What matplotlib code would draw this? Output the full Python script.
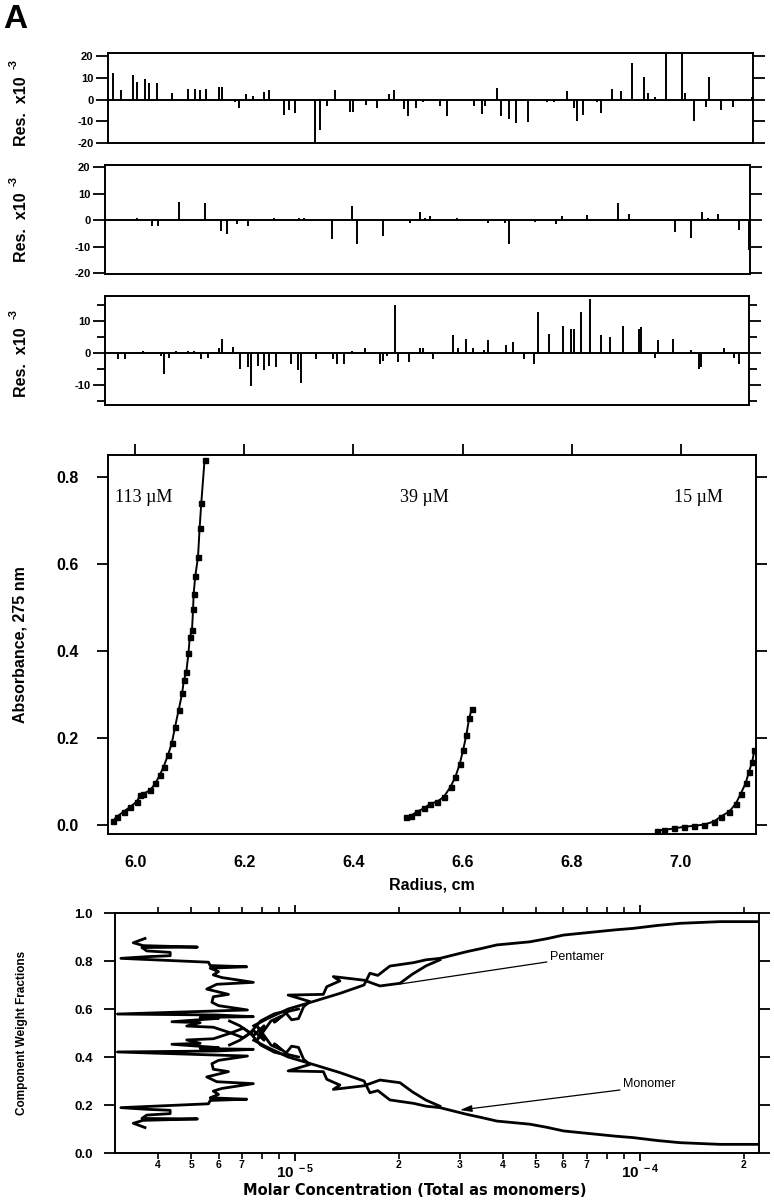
import numpy as np
import matplotlib.pyplot as plt
from matplotlib.ticker import FixedLocator, FixedFormatter

plt.rcParams['font.family'] = ['Liberation Sans', 'DejaVu Sans']
plt.rcParams['mathtext.fontset'] = 'custom'
plt.rcParams['mathtext.bf'] = 'Liberation Sans:bold'
plt.rcParams['mathtext.rm'] = 'Liberation Sans:bold'
plt.rcParams['axes.unicode_minus'] = False

# ---- residual panels (position along scan, % ; residual x1e-3) ----
res1_pos = [0.5, 1.7, 3.6, 4.2, 5.4, 6.0, 7.3, 9.6, 12.1, 13.2, 14.0, 15.0, 16.9, 17.4, 19.4,
            20.0, 21.2, 22.3, 24.0, 24.8, 27.1, 27.8, 28.8, 31.9, 32.7, 33.8, 35.0, 37.4, 37.8,
            39.8, 41.6, 43.4, 44.2, 45.7, 46.4, 47.6, 48.7, 51.3, 52.4, 56.6, 57.8, 58.4, 60.2,
            60.8, 62.0, 63.1, 65.0, 67.9, 69.1, 71.0, 72.2, 72.7, 73.5, 75.8, 76.4, 78.1, 79.4,
            81.2, 83.1, 83.6, 84.8, 86.5, 89.0, 89.5, 90.9, 92.7, 93.2, 95.0, 96.9, 99.8]
res1_val = [12.5, 4.5, 11.5, 8, 9.5, 7.5, 7.5, 3, 5, 5, 4.5, 5, 6, 6, -1,
            -4, 2.5, 1.5, 3.5, 4.5, -7, -5, -6, -20, -14, -3, 4.5, -5.5, -5.5,
            -2.5, -4, 2.5, 4.5, -4.5, -7.5, -4, -1, -3, -7.5, -3, -6.5, -3, 5.5,
            -7.5, -9, -11, -10.5, -1, -1, 4, -4, -10, -7, -1, -6, 5, 4,
            17, 10.5, 3, 1, 25, 24, 3, -10, -3.5, 10.5, -5, -3.5, 1]

res2_pos = [4.7, 7.0, 7.9, 11.2, 15.3, 17.7, 18.6, 20.3, 21.9, 26.0, 29.9, 30.7, 35.0, 38.1,
            38.9, 42.9, 47.1, 48.7, 49.5, 50.2, 54.4, 56.7, 59.2, 61.9, 62.5, 66.5, 69.8, 70.7,
            74.6, 79.4, 81.2, 86.7, 88.4, 90.9, 92.6, 93.5, 95.0, 98.3, 99.8]
res2_val = [1, -2, -2, 7, 6.5, -4, -5, -1.5, -2, 1, 1, 1, -7, 5.5,
            -9, -6, -1, 3, 1, 1.5, 1, 0.5, -1, -1, -9, -0.5, -1.5, 1.5,
            2, 6.5, 2.5, 0.5, -4.5, -6.5, 3, 1, 2.5, -3.5, -11]

res3_pos = [1.7, 2.8, 5.6, 8.4, 8.9, 9.6, 10.7, 12.7, 13.5, 14.6, 15.8, 17.4, 17.9, 19.7, 20.7,
            21.9, 22.5, 23.6, 24.5, 25.3, 26.4, 28.6, 29.7, 30.3, 32.5, 33.5, 35.2, 35.9, 37.0,
            38.2, 40.2, 42.5, 43.0, 43.6, 44.9, 45.3, 47.0, 48.8, 49.2, 50.8, 53.9, 54.7, 55.9,
            57.0, 58.7, 59.3, 62.1, 63.2, 64.9, 66.5, 67.1, 68.8, 71.1, 72.2, 72.7, 73.8, 75.3,
            77.0, 78.3, 80.4, 82.8, 83.2, 85.4, 85.9, 88.2, 91.0, 92.2, 92.5, 96.1, 97.7, 98.4]
res3_val = [-2, -2, 0.5, -1, -6.5, -1.5, 0.5, 0.5, 0.5, -2, -1.5, 1.5, 4.5, 2, -5,
            -4.5, -10.5, -4, -5.5, -4, -4.5, -3.5, -5.5, -9.5, -2, -0.5, -2, -3.5, -3.5,
            0.5, 1.5, -3.5, -2.5, -1, 15, -3, -3, 1.5, 1.5, -2, 5.5, 1.5, 4.5,
            1.5, 1, 4, 2.5, 3.5, -2, -3.5, 12.8, 6, 8.5, 7.5, 7.5, 13, 17,
            5.5, 5, 8.5, 7.5, 8, -1.5, 4, 4.5, 1, -5, -4.5, 1.5, -1.5, -3.5]

# ---- absorbance profiles (radius cm, absorbance at 275 nm) ----
r_113 = [5.959, 5.966, 5.979, 5.991, 6.003, 6.009, 6.015, 6.0275, 6.037, 6.045, 6.052, 6.060,
         6.067, 6.073, 6.0795, 6.086, 6.089, 6.0936, 6.0975, 6.100, 6.104, 6.106, 6.107, 6.110,
         6.115, 6.118, 6.121, 6.127]
a_113 = [0.009, 0.019, 0.031, 0.042, 0.054, 0.069, 0.072, 0.080, 0.096, 0.115, 0.134, 0.161,
         0.188, 0.226, 0.264, 0.303, 0.333, 0.352, 0.395, 0.432, 0.448, 0.497, 0.531, 0.572,
         0.616, 0.683, 0.740, 0.839]
r_39 = [6.497, 6.505, 6.517, 6.529, 6.541, 6.554, 6.566, 6.578, 6.587, 6.595, 6.601, 6.607,
        6.612, 6.617]
a_39 = [0.019, 0.021, 0.031, 0.038, 0.049, 0.054, 0.065, 0.088, 0.111, 0.141, 0.172, 0.207,
        0.245, 0.267]
r_15 = [6.956, 6.970, 6.988, 7.006, 7.024, 7.043, 7.061, 7.073, 7.089, 7.101, 7.110, 7.119,
        7.125, 7.131, 7.135]
a_15 = [-0.013, -0.011, -0.008, -0.004, -0.002, 0.001, 0.008, 0.019, 0.031, 0.049, 0.072,
        0.096, 0.122, 0.145, 0.172]
cells = ['113 \u00b5M', '39 \u00b5M', '15 \u00b5M']
cell_label_r = [5.963, 6.486, 6.987]

# ---- pentamer weight fraction traces (log10 molar conc, fraction) ----
p1_logc = [-5.435, -5.469, -5.440, -5.283, -5.444, -5.430, -5.362, -5.362, -5.430, -5.505,
           -5.251, -5.246, -5.140, -5.246, -5.222, -5.237, -5.212, -5.121, -5.227, -5.256,
           -5.193, -5.237, -5.241, -5.222, -5.138, -5.515, -5.227, -5.121, -5.275, -5.222,
           -5.357, -5.275, -5.314, -5.237, -5.188, -5.15, -5.12, -5.09, -5.11, -5.07, -5.04,
           -5.06, -5.02, -4.99]
p1_frac = [0.106, 0.124, 0.136, 0.142, 0.144, 0.158, 0.164, 0.178, 0.182, 0.189,
           0.205, 0.219, 0.224, 0.230, 0.244, 0.258, 0.269, 0.289, 0.297, 0.317,
           0.339, 0.349, 0.372, 0.386, 0.404, 0.421, 0.425, 0.432, 0.435, 0.439,
           0.453, 0.457, 0.471, 0.476, 0.499, 0.52, 0.49, 0.53, 0.47, 0.55, 0.57,
           0.545, 0.59, 0.60]
p2_logc = [-5.19, -5.16, -5.13, -5.10, -5.06, -5.03, -5.01, -4.99, -4.975, -4.957, -5.02,
           -4.918, -4.908, -4.87, -4.889, -4.80, -4.754, -4.696, -4.66, -4.62, -4.58]
p2_frac = [0.45, 0.47, 0.50, 0.55, 0.58, 0.59, 0.555, 0.56, 0.61, 0.631, 0.658,
           0.661, 0.693, 0.717, 0.735, 0.72, 0.696, 0.707, 0.745, 0.78, 0.805]
p3_logc = [-5.12, -5.08, -5.02, -4.95, -4.87, -4.80, -4.783, -4.76, -4.725, -4.657, -4.62,
           -4.58, -4.502, -4.46, -4.415, -4.319, -4.27, -4.222, -4.126, -4.07, -4.019, -3.95,
           -3.884, -3.768, -3.657]
p3_frac = [0.53, 0.56, 0.60, 0.63, 0.665, 0.70, 0.749, 0.74, 0.779, 0.793, 0.805,
           0.811, 0.839, 0.852, 0.867, 0.880, 0.893, 0.908, 0.922, 0.93, 0.936, 0.948,
           0.957, 0.964, 0.964]

W, H = 774, 1200
fig = plt.figure(figsize=(W / 100, H / 100), dpi=100)


def rect(l, t, r, b):
    return [l / W, 1 - b / H, (r - l) / W, (b - t) / H]


def res_panel(box, pos, val, ylim, major, minor, lab_y, sup_y):
    ax = fig.add_axes(box)
    ax.vlines(pos, 0, val, color='black', lw=1.4)
    ax.axhline(0, color='black', lw=1.4)
    ax.set_xlim(-0.3, 100)
    ax.set_ylim(*ylim)
    ax.set_xticks([])
    ax.set_yticks(major)
    ax.set_yticks(minor, minor=True)
    ax.tick_params(axis='y', which='both', direction='out', left=True, right=True,
                   width=1.3, length=8.5, pad=2)
    ax.tick_params(axis='y', which='minor', length=6)
    for lab in ax.get_yticklabels():
        lab.set_fontsize(8)
        lab.set_fontweight('bold')
    for sp in ax.spines.values():
        sp.set_linewidth(1.4)
    fig.text(22 / W, 1 - lab_y / H, 'Res.  x10', rotation=90, fontsize=11.5,
             fontweight='bold', ha='center', va='center')
    fig.text(14 / W, 1 - sup_y / H, '-3', rotation=90, fontsize=8, fontweight='bold',
             ha='center', va='center')
    return ax


res_panel(rect(108, 53, 753, 143), res1_pos, res1_val, (-20, 21.5),
          [-20, -10, 0, 10, 20], [], 111, 64)
res_panel(rect(105, 165, 750, 274), res2_pos, res2_val, (-20.2, 20.9),
          [-20, -10, 0, 10, 20], [], 227, 181)
res_panel(rect(105, 296, 749, 405), res3_pos, res3_val, (-16.4, 17.9),
          [-10, 0, 10], [-15, -5, 5, 15], 362, 314)

# ---- main absorbance panel ----
ax = fig.add_axes(rect(108, 455, 756, 834))
for r, a in [(r_113, a_113), (r_39, a_39), (r_15, a_15)]:
    ax.plot(r, a, '-', color='black', lw=1.4, marker='s', ms=3.6, mfc='black', mec='black')
for lab, x in zip(cells, cell_label_r):
    ax.text(x, 0.752, lab, family=['Liberation Serif', 'DejaVu Serif'], fontsize=13,
            ha='left', va='center')
ax.set_xlim(5.95, 7.138)
ax.set_ylim(-0.0207, 0.8506)
ax.set_xticks([6.0, 6.2, 6.4, 6.6, 6.8, 7.0])
ax.set_xticklabels(['6.0', '6.2', '6.4', '6.6', '6.8', '7.0'])
ax.set_yticks([0.0, 0.2, 0.4, 0.6, 0.8])
ax.set_yticklabels(['0.0', '0.2', '0.4', '0.6', '0.8'])
ax.tick_params(axis='x', which='major', bottom=False, top=True, direction='out', length=8,
               width=1.3, pad=7, labelsize=11.5)
ax.tick_params(axis='y', left=True, right=True, direction='out', length=8, width=1.3,
               pad=13, labelsize=11.5)
for lab in ax.get_xticklabels() + ax.get_yticklabels():
    lab.set_fontweight('bold')
for sp in ax.spines.values():
    sp.set_linewidth(1.4)
ax.set_xlabel('Radius, cm', fontsize=11.5, fontweight='bold')
ax.xaxis.set_label_coords(0.5, -0.116)
ax.set_ylabel('Absorbance, 275 nm', fontsize=11.5, fontweight='bold')
ax.yaxis.set_label_coords(-0.124, 0.5)

# ---- component weight fractions panel ----
ax = fig.add_axes(rect(115, 913, 759, 1153))
for lc, fr in [(p1_logc, p1_frac), (p2_logc, p2_frac), (p3_logc, p3_frac)]:
    c = 10 ** np.array(lc)
    f = np.array(fr)
    ax.plot(c, f, color='black', lw=2.0)
    ax.plot(c, 1 - f, color='black', lw=2.0)
ax.set_xscale('log')
ax.set_xlim(10 ** -5.522, 10 ** -3.655)
ax.set_ylim(0, 1)
ax.xaxis.set_major_locator(FixedLocator([1e-5, 1e-4]))
ax.xaxis.set_major_formatter(FixedFormatter([r'$\mathbf{10^{\ -5}}$', r'$\mathbf{10^{\ -4}}$']))
minor_pos = [4e-6, 5e-6, 6e-6, 7e-6, 8e-6, 9e-6,
             2e-5, 3e-5, 4e-5, 5e-5, 6e-5, 7e-5, 8e-5, 9e-5, 2e-4]
minor_lab = ['4', '5', '6', '7', '', '', '2', '3', '4', '5', '6', '7', '', '', '2']
ax.xaxis.set_minor_locator(FixedLocator(minor_pos))
ax.xaxis.set_minor_formatter(FixedFormatter(minor_lab))
ax.tick_params(axis='x', which='major', top=True, bottom=True, direction='out', length=6,
               width=1.3, pad=1, labelsize=11)
ax.tick_params(axis='x', which='minor', top=True, bottom=True, direction='out', length=4,
               width=1.2, pad=1, labelsize=7.5)
ax.set_yticks([0.0, 0.2, 0.4, 0.6, 0.8, 1.0])
ax.set_yticklabels(['0.0', '0.2', '0.4', '0.6', '0.8', '1.0'])
ax.tick_params(axis='y', left=True, right=True, direction='out', length=8, width=1.3,
               pad=8, labelsize=9.5)
for lab in ax.get_yticklabels() + ax.get_xticklabels(which='minor'):
    lab.set_fontweight('bold')
for sp in ax.spines.values():
    sp.set_linewidth(1.4)
ax.set_xlabel('Molar Concentration (Total as monomers)', fontsize=10.5, fontweight='bold',
              family=['DejaVu Sans'])
ax.xaxis.set_label_coords(0.466, -0.125)
ax.set_ylabel('Component Weight Fractions', fontsize=8.5, fontweight='bold',
              family=['Liberation Sans Narrow', 'Liberation Sans'])
ax.yaxis.set_label_coords(-0.135, 0.5)

ax.annotate('', xy=(10 ** -4.696, 0.704), xytext=(10 ** -4.27, 0.796),
            arrowprops=dict(arrowstyle='-', lw=0.9, color='black', shrinkA=0, shrinkB=0))
ax.text(10 ** -4.261, 0.817, 'Pentamer', fontsize=9, ha='left', va='center')
ax.annotate('', xy=(10 ** -4.522, 0.179), xytext=(10 ** -4.058, 0.2625),
            arrowprops=dict(arrowstyle='-|>,head_length=0.7,head_width=0.2', lw=0.9,
                            color='black', shrinkA=0, shrinkB=0))
ax.text(10 ** -4.049, 0.2875, 'Monomer', fontsize=9, ha='left', va='center')

fig.text(3 / W, 1 - 4 / H, 'A', fontsize=24, fontweight='bold', ha='left', va='top')

fig.savefig('out.png', dpi=100)
